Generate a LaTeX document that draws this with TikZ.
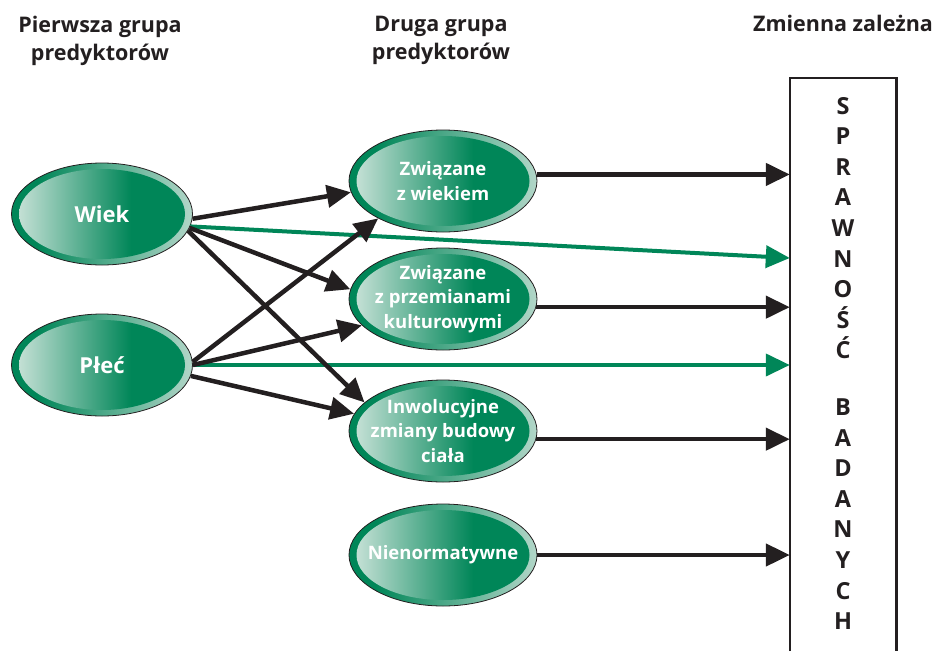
\documentclass[tikz,border=0pt]{standalone}
\usepackage{fontspec}
\setmainfont{Open Sans}
\usetikzlibrary{shapes.geometric,arrows.meta,positioning}

\definecolor{grn}{RGB}{0,134,88}
\definecolor{mint}{RGB}{196,224,213}
\definecolor{pale}{RGB}{178,214,200}
\definecolor{ink}{RGB}{35,31,32}
\pgfdeclarehorizontalshading{ringfill}{100bp}{color(0bp)=(grn); color(32bp)=(grn); color(75bp)=(pale); color(100bp)=(pale)}
\pgfdeclarehorizontalshading{corefill}{100bp}{color(0bp)=(mint); color(27bp)=(mint); color(58bp)=(grn); color(100bp)=(grn)}

\tikzset{
  pred/.style={ellipse, draw=ink, line width=0.8pt, minimum width=#1, minimum height=102pt,
    inner xsep=-40pt, inner ysep=-6pt, shading=ringfill, text=white, align=center,
    font=\bfseries\fontsize{18.5}{24.5}\selectfont,
    path picture={\shade[shading=corefill] (path picture bounding box.center)
      ellipse [x radius=#1/2-7.5pt, y radius=45pt];}},
  pred/.default=188pt,
  head/.style={font=\bfseries\fontsize{21.5}{28}\selectfont, align=center, inner sep=0pt, text=ink},
  letters/.style={font=\bfseries\fontsize{23.5}{30.6}\selectfont, align=center, inner sep=0pt, text=ink},
  arr/.style={line width=4.5pt, draw=ink, -{Triangle[length=24pt,width=22pt]}},
  garr/.style={arr, draw=grn, line width=4pt}
}

\begin{document}
\begin{tikzpicture}[x=1pt,y=-1pt]
    \useasboundingbox (0,0) rectangle (934,651);
    % headings
    \node[head, anchor=north] (h1) at (100,16) {Pierwsza grupa\\predyktorów};
    \node[head, anchor=north] (h2) at (441,16) {Druga grupa\\predyktorów};
    \node[head, anchor=north] (h3) at (843,15) {Zmienna zależna};
    % predictors
    \node[pred=181pt, font=\bfseries\fontsize{22}{25}\selectfont] (wiek) at (102,214) {Wiek};
    \node[pred=181pt, font=\bfseries\fontsize{22}{25}\selectfont] (plec) at (102,365) {Płeć};
    \node[pred] (zw) at (443,181) {Związane\\z wiekiem};
    \node[pred] (zp) at (443,299) {Związane\\z przemianami\\kulturowymi};
    \node[pred] (inw) at (443,431) {Inwolucyjne\\zmiany budowy\\ciała};
    \node[pred] (nien) at (443,555) {Nienormatywne};
    % dependent variable
    \node[minimum width=106pt, minimum height=573pt, inner sep=0pt] (dv) at (843,364.5) {};
    \draw[line width=2.6pt, ink] (dv.south west) -- (dv.north west) -- (dv.north east) -- (dv.south east);
    \node[letters, below=19pt of dv.north] (lbl) {S\\P\\R\\A\\W\\N\\O\\Ś\\Ć\\[26pt]B\\A\\D\\A\\N\\Y\\C\\H};
    \coordinate (gw) at (dv.west |- 0,258);
    % direct paths
    \draw[garr] (wiek.-8) -- (gw);
    \draw[garr] (plec.east) -- (plec.east -| dv.west);
    \draw[arr] (zw.4) -- (zw.4 -| dv.west);
    \draw[arr] (zp.-5) -- (zp.-5 -| dv.west);
    \draw[arr] (inw.-5) -- (inw.-5 -| dv.west);
    \draw[arr] (nien.east) -- (nien.east -| dv.west);
    % first group -> second group
    \draw[arr] (wiek.-3) -- (zw.187);
    \draw[arr] (wiek.-9) -- (zp.174);
    \draw[arr] (wiek.-11) -- (inw.160);
    \draw[arr] (plec.2) -- (zw.210);
    \draw[arr] (plec.0) -- (zp.198);
    \draw[arr] (plec.-7) -- (inw.169);
\end{tikzpicture}
\end{document}
